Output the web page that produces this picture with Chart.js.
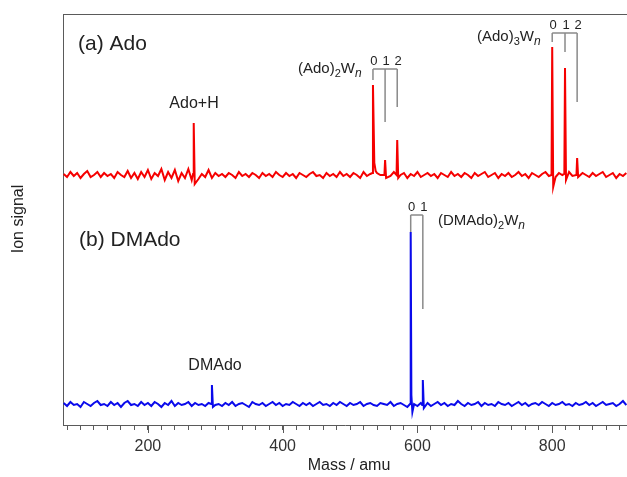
<!DOCTYPE html>
<html>
<head>
<meta charset="utf-8">
<script src="https://cdn.jsdelivr.net/npm/chart.js@4"></script>
<style>
  html, body { margin: 0; padding: 0; background: #fff; }
  #wrap { width: 627px; height: 477px; }
</style>
</head>
<body>
<div id="wrap"><canvas id="ms"></canvas></div>
<script>
/* ---- spectrum data (mass in amu, signal in arbitrary offset units) ---- */

// baseline samples shared by both traces
const noiseMass = [75,80,85,90,95,100,105,110,115,120,125,130,
  135,140,145,150,155,160,165,170,175,180,185,190,
  195,200,205,210,215,220,225,230,235,240,245,250,
  255,260,265,270,275,280,285,290,295,300,305,310,
  315,320,325,330,335,340,345,350,355,360,365,370,
  375,380,385,390,395,400,405,410,415,420,425,430,
  435,440,445,450,455,460,465,470,475,480,485,490,
  495,500,505,510,515,520,525,530,535,540,545,550,
  555,560,565,570,575,580,585,590,595,600,605,610,
  615,620,625,630,635,640,645,650,655,660,665,670,
  675,680,685,690,695,700,705,710,715,720,725,730,
  735,740,745,750,755,760,765,770,775,780,785,790,
  795,800,805,810,815,820,825,830,835,840,845,850,
  855,860,865,870,875,880,885,890,895,900,905,910];

const noiseA = [251,248,253,249,252,247,251,254,248,250,253,248,
  252,249,251,247,253,250,248,254,247,252,246,253,
  248,255,246,252,249,256,245,253,247,255,244,252,
  247,256,245,254,246,251,248,255,247,252,249,251,
  248,252,250,247,253,249,251,248,252,250,247,252,
  249,251,248,253,250,248,252,249,251,247,252,250,
  248,251,253,249,250,247,252,249,251,248,253,249,
  251,248,252,250,247,253,249,251,248,252,250,248,
  251,249,253,248,250,252,247,251,249,253,248,250,
  252,249,251,247,252,250,248,253,249,251,248,252,
  250,247,252,249,251,253,248,250,252,247,251,249,
  252,248,250,253,249,251,247,252,250,248,251,253,
  249,251,248,252,250,247,253,249,251,248,252,250,
  248,252,249,251,253,248,250,252,247,251,249,252];

const noiseB = [22,19,23,20,21,18,23,21,19,22,24,20,
  21,19,23,20,22,18,22,24,20,21,19,23,
  20,22,19,23,21,18,22,20,24,19,22,20,
  21,23,19,22,20,21,19,22,24,20,21,19,
  22,20,23,19,21,22,20,18,23,21,20,22,
  19,21,23,20,22,19,21,20,23,21,19,22,
  20,22,19,21,23,20,21,19,22,20,23,21,
  19,22,20,21,23,19,21,22,20,19,22,21,
  20,23,19,21,22,20,18,22,21,19,22,20,
  22,19,21,23,20,22,19,21,20,24,21,19,
  22,20,21,23,19,22,20,21,19,23,21,20,
  22,19,21,23,20,22,19,21,22,20,23,21,
  19,22,20,21,23,20,21,19,22,20,21,23,
  20,22,19,21,23,20,21,22,19,21,24,20];

// peaks: Ado+H, (Ado)2Wn n=0..2, (Ado)3Wn n=0..2
const peakMassA   = [267, 268, 269.5, 533, 534, 536, 538, 551, 552, 553.5, 569, 570, 571.5, 799, 800, 801.5, 818, 819, 820.5, 836, 837, 838.5];
const peakSignalA = [251, 302, 241,   252, 340, 262, 254, 250, 265, 247,   250, 285, 247,   250, 378, 238,   251, 357, 245,   250, 267, 248];

// peaks: DMAdo, (DMAdo)2Wn n=0..1
const peakMassB   = [294, 295, 296.5, 589, 590, 591, 592.5, 607, 608, 609.5];
const peakSignalB = [21,  40,  18,    21,  193, 30,  13,    20,  45,  17];

const xMin = 74, xMax = 911;
const majorTicks = [200, 400, 600, 800];

// peak-label brackets: masses of the cluster peaks, bracket top, and leg ends (signal units)
const bracketA2 = { masses: [534, 552, 570], labels: ['0', '1', '2'], top: 356, ends: [345, 303, 318] };
const bracketA3 = { masses: [800, 819, 837], labels: ['0', '1', '2'], top: 392, ends: [383, 373, 323] };
const bracketB2 = { masses: [590, 608], labels: ['0', '1'], top: 210, ends: [193, 116] };

const RED = 'rgb(245,0,0)';
const BLUE = 'rgb(10,10,235)';
const FRAME = '#5a5a5a';
const FONT = '"Liberation Sans", Arial, Helvetica, sans-serif';

// merge baseline samples and peak samples into one sorted trace
function buildTrace(peakMass, peakSignal, noise) {
  const pts = peakMass.map((m, i) => ({ x: m, y: peakSignal[i] }));
  noiseMass.forEach((m, i) => {
    if (!peakMass.some(p => Math.abs(p - m) < 1.6)) pts.push({ x: m, y: noise[i] });
  });
  return pts.sort((a, b) => a.x - b.x);
}

// text with sub-script and italic pieces: parts = [[text, 'n'|'sub'|'it'], ...]
function richText(ctx, parts, x, y, size) {
  let cx = x;
  parts.forEach(([t, kind]) => {
    if (kind === 'sub') {
      ctx.font = `${Math.round(size * 0.7)}px ${FONT}`;
      ctx.fillText(t, cx, y + size * 0.3);
    } else if (kind === 'it') {
      ctx.font = `italic ${Math.round(size * 0.8)}px ${FONT}`;
      ctx.fillText(t, cx, y + size * 0.3);
    } else {
      ctx.font = `${size}px ${FONT}`;
      ctx.fillText(t, cx, y);
    }
    cx += ctx.measureText(t).width;
  });
}

function drawBracket(ctx, xs, ys, b) {
  const top = ys.getPixelForValue(b.top);
  const px = b.masses.map(m => xs.getPixelForValue(m));
  ctx.strokeStyle = '#8a8a8a';
  ctx.lineWidth = 1.5;
  ctx.beginPath();
  ctx.moveTo(px[0], top);
  ctx.lineTo(px[px.length - 1], top);
  px.forEach((p, i) => {
    ctx.moveTo(p, top);
    ctx.lineTo(p, ys.getPixelForValue(b.ends[i]));
  });
  ctx.stroke();
  ctx.fillStyle = '#222';
  ctx.font = `13px ${FONT}`;
  ctx.textAlign = 'center';
  ctx.textBaseline = 'alphabetic';
  px.forEach((p, i) => ctx.fillText(b.labels[i], p + 1, top - 4));
}

const decorations = {
  id: 'decorations',
  afterDraw(chart) {
    const { ctx, chartArea: a, scales: { x, y } } = chart;
    ctx.save();

    // frame top line
    ctx.strokeStyle = FRAME;
    ctx.lineWidth = 1;
    ctx.beginPath();
    ctx.moveTo(a.left, a.top + 0.5);
    ctx.lineTo(a.right, a.top + 0.5);
    ctx.stroke();

    // longer major ticks
    ctx.beginPath();
    majorTicks.forEach(v => {
      const px = Math.round(x.getPixelForValue(v)) + 0.5;
      ctx.moveTo(px, a.bottom);
      ctx.lineTo(px, a.bottom + 8);
    });
    ctx.stroke();

    drawBracket(ctx, x, y, bracketA2);
    drawBracket(ctx, x, y, bracketA3);
    drawBracket(ctx, x, y, bracketB2);

    ctx.fillStyle = '#222';
    ctx.textBaseline = 'middle';
    ctx.textAlign = 'left';
    ctx.font = `21px ${FONT}`;
    ctx.fillText('(a) Ado', 78, 44);
    ctx.fillText('(b) DMAdo', 79, 240);

    ctx.font = `16px ${FONT}`;
    ctx.textAlign = 'center';
    ctx.fillText('Ado+H', 194, 104);
    ctx.fillText('DMAdo', 215, 366);

    ctx.textAlign = 'left';
    richText(ctx, [['(Ado)', 'n'], ['2', 'sub'], ['W', 'n'], ['n', 'it']], 298, 69, 15);
    richText(ctx, [['(Ado)', 'n'], ['3', 'sub'], ['W', 'n'], ['n', 'it']], 477, 37, 15);
    richText(ctx, [['(DMAdo)', 'n'], ['2', 'sub'], ['W', 'n'], ['n', 'it']], 438, 221, 15);

    // axis titles
    ctx.font = `16px ${FONT}`;
    ctx.textAlign = 'center';
    ctx.fillText('Mass / amu', 349, 466);
    ctx.translate(19, 219);
    ctx.rotate(-Math.PI / 2);
    ctx.fillText('Ion signal', 0, 0);

    ctx.restore();
  }
};

new Chart(document.getElementById('ms'), {
  type: 'line',
  data: {
    datasets: [
      { label: 'Ado', data: buildTrace(peakMassA, peakSignalA, noiseA), borderColor: RED, borderWidth: 2 },
      { label: 'DMAdo', data: buildTrace(peakMassB, peakSignalB, noiseB), borderColor: BLUE, borderWidth: 2 },
    ],
  },
  options: {
    responsive: true,
    maintainAspectRatio: false,
    animation: false,
    parsing: false,
    elements: { point: { radius: 0 }, line: { tension: 0 } },
    layout: { padding: { top: 14, right: 0, left: 0, bottom: 0 } },
    plugins: { legend: { display: false }, tooltip: { enabled: false } },
    scales: {
      x: {
        type: 'linear',
        min: xMin,
        max: xMax,
        afterFit: s => { s.height = 52; },
        afterBuildTicks: s => {
          const t = [];
          for (let v = 80; v <= 900; v += 20) t.push({ value: v });
          s.ticks = t;
        },
        ticks: {
          autoSkip: false,
          maxRotation: 0,
          padding: 7,
          color: '#333',
          font: { family: FONT, size: 16 },
          callback: v => (majorTicks.includes(v) ? String(v) : ''),
        },
        grid: { drawOnChartArea: false, tickLength: 5, color: FRAME, lineWidth: 1 },
        border: { color: FRAME, width: 1 },
      },
      y: {
        min: 0,
        max: 411,
        afterFit: s => { s.width = 63; },
        ticks: { display: false },
        grid: { display: false },
        border: { color: FRAME, width: 1 },
      },
    },
  },
  plugins: [decorations],
});
</script>
</body>
</html>
